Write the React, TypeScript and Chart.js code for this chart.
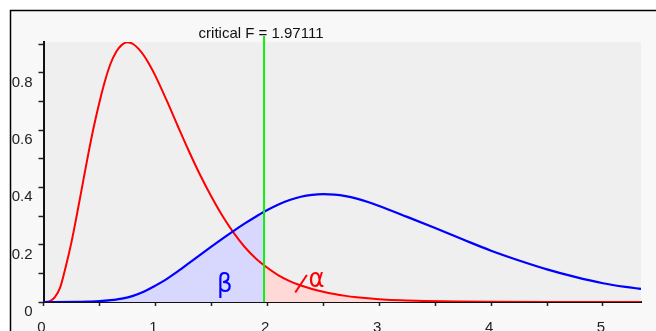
import React, { useEffect, useRef } from 'react';
import { Chart, registerables } from 'chart.js';

Chart.register(...registerables);

// ---- data ----
const CRIT_F = 1.97111;

const redX = [0, 0.05, 0.1, 0.15, 0.2, 0.25, 0.3, 0.35, 0.4, 0.45, 0.5, 0.55, 0.6, 0.65, 0.7, 0.75, 0.8, 0.85, 0.9, 0.95, 1.0, 1.1, 1.2, 1.3, 1.4, 1.5, 1.6, 1.7, 1.8, 1.9, 1.97111, 2.1, 2.2, 2.3, 2.4, 2.5, 2.6, 2.7, 2.8, 2.9, 3.0, 3.2, 3.4, 3.7, 4.0, 4.5, 5.34];
const redY = [0, 0.002, 0.016, 0.052, 0.125, 0.209, 0.308, 0.412, 0.516, 0.612, 0.697, 0.772, 0.832, 0.873, 0.897, 0.906, 0.9, 0.883, 0.858, 0.826, 0.789, 0.704, 0.614, 0.526, 0.443, 0.368, 0.3, 0.241, 0.191, 0.151, 0.128, 0.093, 0.073, 0.0575, 0.0455, 0.0355, 0.0276, 0.0214, 0.0166, 0.0128, 0.0099, 0.0058, 0.0034, 0.0014, 0.0006, 0.0001, 0];

const blueX = [0, 0.3, 0.4, 0.5, 0.6, 0.7, 0.8, 0.9, 1.0, 1.1, 1.2, 1.3, 1.4, 1.5, 1.6, 1.7, 1.8, 1.9, 1.97111, 2.1, 2.2, 2.3, 2.4, 2.5, 2.6, 2.7, 2.8, 2.9, 3.0, 3.25, 3.5, 3.75, 4.0, 4.25, 4.5, 4.75, 5.0, 5.2, 5.34];
const blueY = [0, 0.0005, 0.0015, 0.003, 0.0065, 0.012, 0.0215, 0.0365, 0.057, 0.08, 0.1065, 0.1353, 0.1646, 0.1933, 0.2213, 0.2483, 0.2741, 0.2983, 0.3147, 0.3403, 0.3558, 0.3671, 0.3738, 0.3763, 0.3748, 0.3695, 0.3606, 0.3489, 0.3351, 0.297, 0.258, 0.218, 0.179, 0.145, 0.114, 0.0875, 0.0655, 0.0527, 0.0457];

const xLabelValues = [0, 1, 2, 3, 4, 5];
const yLabelValues = [0, 0.2, 0.4, 0.6, 0.8];

const X_MAX = 5.34;
const Y_MAX = 0.907;

const critLabel = 'critical F = 1.97111';
const betaLabel = 'β';
const alphaLabel = 'α';
const betaPos = { x: 1.62, y: 0.06 };
const alphaPos = { x: 2.44, y: 0.078 };
const alphaPointer = [{ x: 2.25, y: 0.033 }, { x: 2.354, y: 0.094 }];

const FONT = '"Liberation Sans", Arial, sans-serif';
const GREEK_FONT = '"DejaVu Sans Condensed", "DejaVu Sans", sans-serif';
const RED = '#ff0000';
const BLUE = '#0000ff';
const GREEN = '#11ee11';
const RED_FILL = 'rgb(255,216,216)';
const BLUE_FILL = 'rgb(216,216,255)';

const framePlugin = {
  id: 'frame',
  beforeDraw(chart: any) {
    const { ctx, width, height, chartArea } = chart;
    ctx.save();
    ctx.fillStyle = '#ffffff';
    ctx.fillRect(0, 0, width, height);
    ctx.fillStyle = '#f8f8f8';
    ctx.fillRect(10, 10, width - 10, height - 10);
    ctx.strokeStyle = '#000';
    ctx.lineWidth = 1.5;
    ctx.beginPath();
    ctx.moveTo(10.5, height);
    ctx.lineTo(10.5, 10.5);
    ctx.lineTo(width, 10.5);
    ctx.stroke();
    ctx.fillStyle = '#efefef';
    ctx.fillRect(chartArea.left, chartArea.top, chartArea.right - chartArea.left, chartArea.bottom - chartArea.top);
    ctx.restore();
  },
};

const annotPlugin = {
  id: 'annot',
  afterDatasetsDraw(chart: any) {
    const { ctx, scales } = chart;
    const xs = scales.x;
    const ys = scales.y;
    const px = xs.getPixelForValue(CRIT_F);
    ctx.save();
    // critical line
    ctx.strokeStyle = GREEN;
    ctx.lineWidth = 2;
    ctx.beginPath();
    ctx.moveTo(px, ys.getPixelForValue(0));
    ctx.lineTo(px, chart.chartArea.top - 6);
    ctx.stroke();
    // label
    ctx.fillStyle = '#111';
    ctx.font = '15px ' + FONT;
    ctx.textAlign = 'center';
    ctx.textBaseline = 'alphabetic';
    ctx.fillText(critLabel, px - 3, chart.chartArea.top - 4);
    // greek letters
    ctx.font = '27px ' + GREEK_FONT;
    ctx.textBaseline = 'middle';
    ctx.fillStyle = BLUE;
    ctx.fillText(betaLabel, xs.getPixelForValue(betaPos.x), ys.getPixelForValue(betaPos.y));
    ctx.fillStyle = RED;
    ctx.fillText(alphaLabel, xs.getPixelForValue(alphaPos.x), ys.getPixelForValue(alphaPos.y));
    ctx.strokeStyle = RED;
    ctx.lineWidth = 2;
    ctx.beginPath();
    ctx.moveTo(xs.getPixelForValue(alphaPointer[0].x), ys.getPixelForValue(alphaPointer[0].y));
    ctx.lineTo(xs.getPixelForValue(alphaPointer[1].x), ys.getPixelForValue(alphaPointer[1].y));
    ctx.stroke();
    ctx.restore();
  },
};

const tickCallback = (labels: number[]) => (v: any) => {
  const n = Number(v);
  const hit = labels.find((t) => Math.abs(t - n) < 1e-6);
  return hit === undefined ? '' : String(hit);
};

export default function App() {
  const ref = useRef<HTMLCanvasElement>(null);
  useEffect(() => {
    if (!ref.current) return;
    const redData = redX.map((x, i) => ({ x, y: redY[i] }));
    const blueData = blueX.map((x, i) => ({ x, y: blueY[i] }));
    const chart = new Chart(ref.current, {
      type: 'line',
      data: {
        datasets: [
          {
            label: 'H0',
            data: redData,
            borderColor: RED,
            borderWidth: 2,
            pointRadius: 0,
            cubicInterpolationMode: 'monotone',
            fill: 'origin',
            backgroundColor: 'rgba(0,0,0,0)',
            segment: {
              backgroundColor: (c: any) => (c.p0.parsed.x >= CRIT_F - 1e-9 ? RED_FILL : 'rgba(0,0,0,0)'),
            },
            order: 2,
          } as any,
          {
            label: 'H1',
            data: blueData,
            borderColor: BLUE,
            borderWidth: 2.2,
            pointRadius: 0,
            cubicInterpolationMode: 'monotone',
            fill: 'origin',
            backgroundColor: 'rgba(0,0,0,0)',
            segment: {
              backgroundColor: (c: any) => (c.p0.parsed.x < CRIT_F - 1e-9 ? BLUE_FILL : 'rgba(0,0,0,0)'),
            },
            order: 1,
          } as any,
        ],
      },
      options: {
        animation: false,
        responsive: false,
        maintainAspectRatio: false,
        layout: { padding: { left: 0, right: 15, top: 42, bottom: 0 } },
        plugins: {
          legend: { display: false },
          tooltip: { enabled: false },
          filler: { drawTime: 'beforeDatasetsDraw' },
        } as any,
        scales: {
          x: {
            type: 'linear',
            min: 0,
            max: X_MAX,
            grid: { drawOnChartArea: false, drawTicks: true, tickLength: 4, tickColor: '#222', tickWidth: 1.5 },
            border: { color: '#111', width: 2 },
            ticks: {
              stepSize: 0.5,
              autoSkip: false,
              includeBounds: false,
              maxRotation: 0,
              padding: 13,
              labelOffset: -2,
              color: '#222',
              font: { family: FONT, size: 15 },
              callback: tickCallback(xLabelValues),
            },
            afterFit: (s: any) => {
              s.height = 29;
            },
          },
          y: {
            type: 'linear',
            min: 0,
            max: Y_MAX,
            grid: { drawOnChartArea: false, drawTicks: true, tickLength: 5, tickColor: '#222', tickWidth: 1.5 },
            border: { color: '#111', width: 2 },
            ticks: {
              stepSize: 0.1,
              autoSkip: false,
              includeBounds: false,
              padding: 6,
              labelOffset: 10,
              color: '#222',
              font: { family: FONT, size: 15 },
              callback: tickCallback(yLabelValues),
            },
            afterFit: (s: any) => {
              s.width = 43.5;
            },
          },
        },
      } as any,
      plugins: [framePlugin, annotPlugin],
    });
    return () => chart.destroy();
  }, []);
  return (
    <div style={{ position: 'fixed', left: 0, top: 0, width: 656, height: 331 }}>
      <canvas ref={ref} width={656} height={331} style={{ width: 656, height: 331, display: 'block' }} />
    </div>
  );
}
